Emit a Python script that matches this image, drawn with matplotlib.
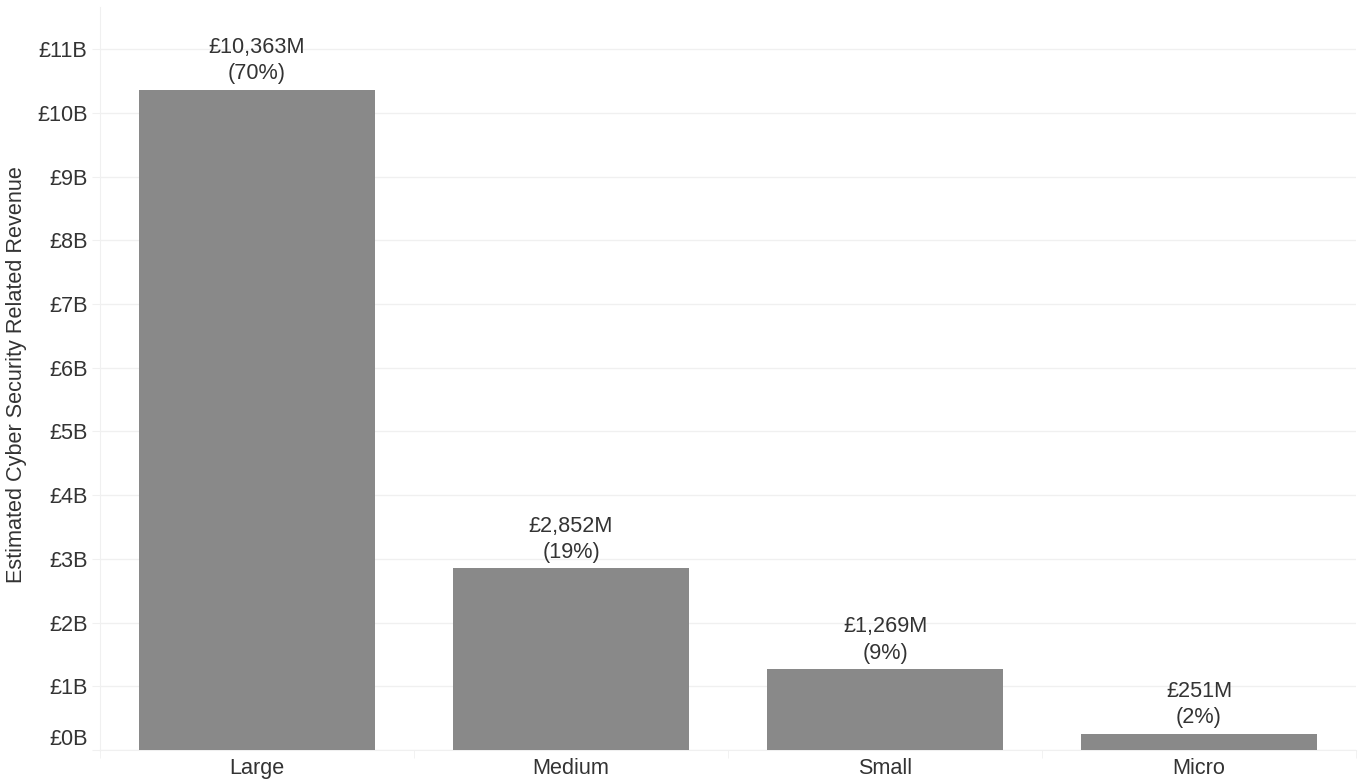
import matplotlib
matplotlib.use("Agg")
import matplotlib.pyplot as plt
from matplotlib.transforms import ScaledTranslation

categories = ["Large", "Medium", "Small", "Micro"]
revenue_m = [10363, 2852, 1269, 251]
shares = [70, 19, 9, 2]
yticks_b = list(range(0, 12))
ytick_labels = [f"£{v}B" for v in yticks_b]

plt.rcParams['font.family'] = ['Liberation Sans', 'DejaVu Sans']
text_color = "#333333"
grid_color = "#f0f0f0"
fs = 15.6

fig = plt.figure(figsize=(13.63, 7.81), dpi=100)
ax = fig.add_axes([100/1363, 1 - 750/781, 1256/1363, 743/781])

vals_b = [v / 1000 for v in revenue_m]
x = list(range(len(categories)))
ax.bar(x, vals_b, width=0.75, color="#898989", zorder=3)

for xi, v, m, s in zip(x, vals_b, revenue_m, shares):
    ax.annotate(f"£{m:,}M\n({s}%)", (xi, v), xytext=(0, 4), textcoords="offset points",
                ha="center", va="bottom", fontsize=fs, color=text_color,
                linespacing=1.32)

ax.set_xlim(-0.5, 3.5)
ax.set_ylim(0, 11.66)
ax.set_yticks(yticks_b)
ax.set_yticklabels(ytick_labels)
ax.set_xticks(x)
ax.set_xticklabels(categories)
ax.tick_params(axis='y', length=6, color=grid_color, labelsize=fs, labelcolor=text_color, pad=3)
ax.tick_params(axis='x', length=0, labelsize=fs, labelcolor=text_color, pad=6)
# category separators
ax.set_xticks([-0.5, 0.5, 1.5, 2.5, 3.5], minor=True)
ax.tick_params(axis='x', which='minor', length=6, color=grid_color)

# shift £0B label up
lab0 = ax.get_yticklabels()[0]
lab0.set_transform(lab0.get_transform() + ScaledTranslation(0, 13/100, fig.dpi_scale_trans))

ax.grid(axis='y', color=grid_color, linewidth=1, zorder=0)
for sp in ["top", "right"]:
    ax.spines[sp].set_visible(False)
ax.spines["left"].set_color(grid_color)
ax.spines["bottom"].set_color(grid_color)

ax.set_ylabel("Estimated Cyber Security Related Revenue", fontsize=fs, color=text_color)
ax.yaxis.set_label_coords(-0.058, 0.505)

fig.savefig("out.png", dpi=100)
